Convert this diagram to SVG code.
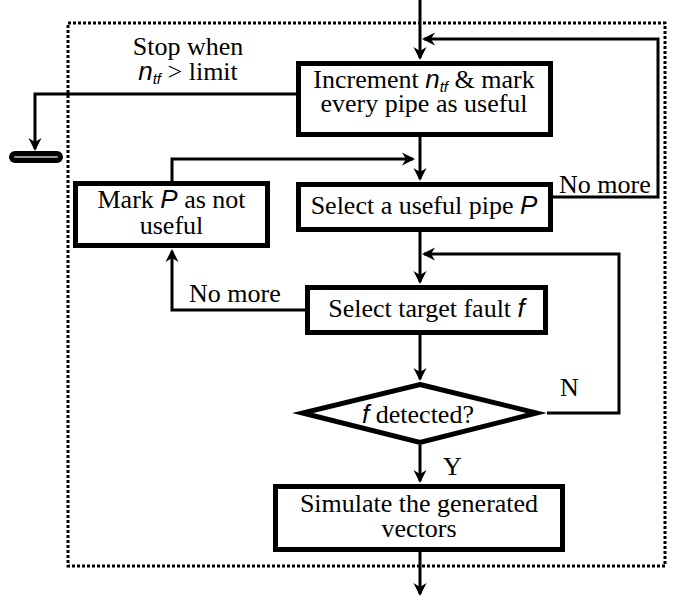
<svg xmlns="http://www.w3.org/2000/svg" width="674" height="599" viewBox="0 0 674 599">
<style>
.box{fill:#fff;stroke:#000;stroke-width:5}
.c{fill:none;stroke:#000;stroke-width:3}
.t{font-family:"Liberation Serif","Times New Roman",serif;font-size:26px;fill:#000}
.i{font-family:"Liberation Sans",Arial,sans-serif;font-style:italic}
.sub{font-family:"Liberation Sans",Arial,sans-serif;font-style:italic;font-size:15px}
</style>
<defs>
<marker id="ah" markerUnits="userSpaceOnUse" markerWidth="18" markerHeight="16" viewBox="-13 -8 16 16" refX="0" refY="0" orient="auto">
<path d="M2,0 L-11,-6.5 L-7,0 L-11,6.5 Z" fill="#000"/>
</marker>
</defs>
<rect x="68" y="23" width="597" height="543" fill="none" stroke="#000" stroke-width="3" stroke-dasharray="3 2"/>
<g id="connectors">
<path class="c" d="M420,0 V58" marker-end="url(#ah)"/>
<path class="c" d="M553,197 H658 V39 H424" marker-end="url(#ah)"/>
<path class="c" d="M296,94 H35 V149" marker-end="url(#ah)"/>
<path class="c" d="M420,137 V179" marker-end="url(#ah)"/>
<path class="c" d="M172,181 V159 H413" marker-end="url(#ah)"/>
<path class="c" d="M420,232 V282" marker-end="url(#ah)"/>
<path class="c" d="M305,310 H172 V251" marker-end="url(#ah)"/>
<path class="c" d="M420,335 V379" marker-end="url(#ah)"/>
<path class="c" d="M547,413 H619 V254 H424" marker-end="url(#ah)"/>
<path class="c" d="M420,445 V481" marker-end="url(#ah)"/>
<path class="c" d="M420,552 V594" marker-end="url(#ah)"/>
</g>
<g id="stop">
<rect x="11.5" y="153.5" width="49" height="7" rx="3.5" fill="#999" stroke="#000" stroke-width="5"/>
</g>
<g id="stop-label">
<text class="t" text-anchor="middle"><tspan x="188" y="55">Stop when</tspan><tspan x="188" y="80" class="i">n</tspan><tspan class="sub" dy="4">tf</tspan><tspan dy="-4"> &gt; limit</tspan></text>
</g>
<g id="increment">
<rect class="box" x="298.5" y="63.5" width="252" height="71"/>
<text class="t" text-anchor="middle"><tspan x="424" y="88">Increment </tspan><tspan class="i">n</tspan><tspan class="sub" dy="4">tf</tspan><tspan dy="-4"> &amp; mark</tspan><tspan x="424" y="112">every pipe as useful</tspan></text>
</g>
<g id="select-pipe">
<rect class="box" x="298.5" y="184.5" width="252" height="45"/>
<text class="t" x="424" y="214" text-anchor="middle">Select a useful pipe <tspan class="i">P</tspan></text>
</g>
<g id="mark-p">
<rect class="box" x="75.5" y="183.5" width="192" height="62"/>
<text class="t" text-anchor="middle"><tspan x="171.5" y="208">Mark </tspan><tspan class="i">P</tspan><tspan> as not</tspan><tspan x="171.5" y="234">useful</tspan></text>
</g>
<g id="select-fault">
<rect class="box" x="307.5" y="287.5" width="238" height="45"/>
<text class="t" x="426.5" y="317" text-anchor="middle">Select target fault <tspan class="i">f</tspan></text>
</g>
<g id="detected">
<polygon points="420,384.5 536.5,413 420,442.5 302.5,413" fill="#fff" stroke="#000" stroke-width="5" stroke-miterlimit="10"/>
<text class="t" x="418" y="423" text-anchor="middle"><tspan class="i">f</tspan> detected?</text>
</g>
<g id="simulate">
<rect class="box" x="275.5" y="486.5" width="287" height="63"/>
<text class="t" text-anchor="middle"><tspan x="419" y="512">Simulate the generated</tspan><tspan x="419" y="537">vectors</tspan></text>
</g>
<g id="labels">
<text class="t" x="559" y="193">No more</text>
<text class="t" x="189" y="302">No more</text>
<text class="t" x="560" y="396">N</text>
<text class="t" x="443" y="475">Y</text>
</g>
</svg>
